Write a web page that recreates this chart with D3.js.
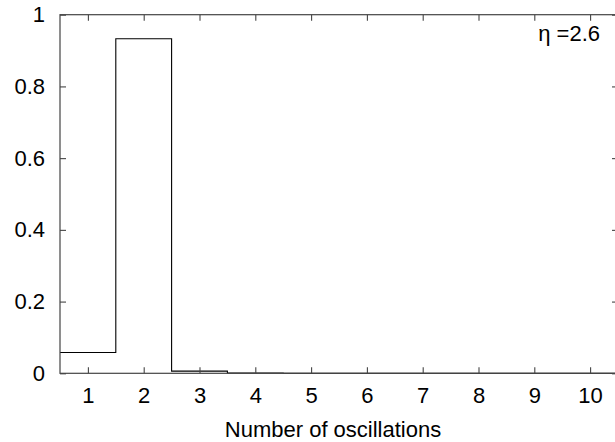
<!DOCTYPE html>
<html>
<head>
<meta charset="utf-8">
<script src="https://cdn.jsdelivr.net/npm/d3@7"></script>
<style>
  html, body { margin: 0; padding: 0; background: #fff; }
  svg { display: block; }
  text { font-family: "Liberation Sans", Arial, Helvetica, sans-serif; fill: #000; }
</style>
</head>
<body>
<svg id="chart" width="615" height="442"></svg>
<script>
// Histogram of oscillation counts
const oscillations = [1, 2, 3, 4, 5, 6, 7, 8, 9, 10];
const fraction = [0.058, 0.933, 0.006, 0.001, 0, 0, 0, 0, 0, 0];
const yTicks = [0, 0.2, 0.4, 0.6, 0.8, 1];
const yTickLabels = ["0", "0.2", "0.4", "0.6", "0.8", "1"];
const xTitle = "Number of oscillations";
const annotation = "η =2.6";

const svg = d3.select("#chart");
const margin = { left: 60, right: -3, top: 14.7, bottom: 68.7 };
const W = 615, H = 442;
const fontSize = 22;

const x = d3.scaleLinear().domain([0.5, 10.5]).range([margin.left, W - margin.right]);
const y = d3.scaleLinear().domain([0, 1]).range([H - margin.bottom, margin.top]);

const tickLen = 6;
const g = svg.append("g");

// Histogram outline drawn as steps across bin edges
const steps = oscillations.map((n, i) => ({ edge: n - 0.5, v: fraction[i] }));
steps.push({ edge: oscillations[oscillations.length - 1] + 0.5, v: fraction[fraction.length - 1] });
const stepLine = d3.line()
  .x(d => x(d.edge))
  .y(d => y(d.v))
  .curve(d3.curveStepAfter);
g.append("path")
  .datum(steps)
  .attr("d", stepLine)
  .attr("fill", "none")
  .attr("stroke", "#000")
  .attr("stroke-width", 1.1);

// Frame
const frameColor = "#444";
g.append("rect")
  .attr("x", x(0.5)).attr("y", y(1))
  .attr("width", x(10.5) - x(0.5)).attr("height", y(0) - y(1))
  .attr("fill", "none").attr("stroke", frameColor).attr("stroke-width", 1.2);

// Axes with inward ticks
const xAxisBottom = d3.axisBottom(x).tickValues(oscillations).tickSize(-tickLen).tickPadding(14.5).tickFormat(d3.format("d"));
const xAxisTop = d3.axisTop(x).tickValues(oscillations).tickSize(-tickLen).tickFormat("");
const yAxisLeft = d3.axisLeft(y).tickValues(yTicks).tickSize(-tickLen).tickPadding(15)
  .tickFormat((d, i) => yTickLabels[i]);
const yAxisRight = d3.axisRight(y).tickValues(yTicks).tickSize(-tickLen).tickFormat("");

function style(sel) {
  sel.select(".domain").remove();
  sel.selectAll(".tick line").attr("stroke", frameColor).attr("stroke-width", 1.1);
  sel.selectAll(".tick text").attr("font-size", fontSize).attr("fill", "#000")
    .attr("font-family", "'Liberation Sans', Arial, Helvetica, sans-serif");
}

g.append("g").attr("transform", `translate(0,${y(0)})`).call(xAxisBottom).call(style);
g.append("g").attr("transform", `translate(0,${y(1)})`).call(xAxisTop).call(style);
g.append("g").attr("transform", `translate(${x(0.5)},0)`).call(yAxisLeft).call(style);
g.append("g").attr("transform", `translate(${x(10.5)},0)`).call(yAxisRight).call(style);

// Axis title
svg.append("text")
  .attr("x", (x(0.5) + x(10.5)) / 2 - 6)
  .attr("y", 437)
  .attr("text-anchor", "middle")
  .attr("font-size", fontSize)
  .text(xTitle);

// Parameter annotation
svg.append("text")
  .attr("x", 600)
  .attr("y", 41)
  .attr("text-anchor", "end")
  .attr("font-size", fontSize)
  .text(annotation);
</script>
</body>
</html>
